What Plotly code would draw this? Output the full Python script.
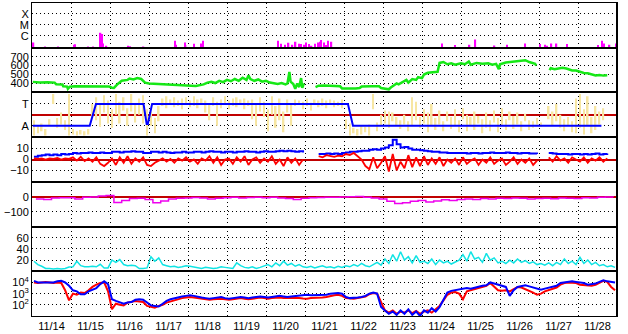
import numpy as np
import plotly.graph_objects as go
from plotly.subplots import make_subplots

# ---------------- axis / category data ----------------
day_labels = ["11/14", "11/15", "11/16", "11/17", "11/18", "11/19", "11/20", "11/21",
              "11/22", "11/23", "11/24", "11/25", "11/26", "11/27", "11/28"]
N_DAYS = len(day_labels)
t10 = np.arange(150) * 0.1 + 0.05      # 0.1-day sample times (days since 11/14 00:00)
t20 = np.arange(75) * 0.2 + 0.1        # 0.2-day sample times

# ---------------- panel 1: X-ray flux (W/m2) ----------------
xr_t = [0.04, 0.34, 0.67, 1.08, 1.11, 1.44, 1.56, 1.76, 1.79, 1.82, 1.91, 2.46, 2.51, 2.86,
        3.66, 3.69, 3.92, 3.94, 4.15, 4.33, 4.38, 6.30, 6.38, 6.48, 6.58, 6.68, 6.76, 6.84,
        6.89, 6.97, 7.02, 7.10, 7.17, 7.25, 7.33, 7.38, 7.42, 7.48, 7.55, 7.59, 7.68,
        10.52, 10.84, 11.22, 11.37, 11.86, 12.18, 12.65, 13.02, 13.15, 13.2, 13.32, 13.45,
        13.72, 14.51, 14.62, 14.66, 14.81, 14.97]
xr_flux = [2.4e-7, 1.0e-7, 1.0e-7, 1.5e-7, 1.65e-7, 1.0e-7, 1.0e-7, 1.9e-6, 1.4e-6, 1.95e-7,
           1.2e-7, 1.2e-7, 1.1e-7, 1.0e-7, 3.5e-7, 1.5e-7, 2.4e-7, 1.4e-7, 1.85e-7, 1.95e-7,
           3.5e-7, 3.5e-7, 1.85e-7, 1.5e-7, 2.3e-7, 1.5e-7, 2.8e-7, 1.85e-7, 1.7e-7, 1.5e-7,
           2.4e-7, 1.7e-7, 1.2e-7, 1.85e-7, 2.4e-7, 2.8e-7, 4.0e-7, 2.4e-7, 1.4e-7, 3.5e-7,
           2.8e-7, 1.95e-7, 1.4e-7, 1.5e-7, 4.5e-7, 1.3e-7, 1.5e-7, 1.95e-7, 1.7e-7, 1.5e-7,
           1.2e-7, 1.95e-7, 1.95e-7, 1.7e-7, 1.4e-7, 3.5e-7, 1.95e-7, 1.5e-7, 1.95e-7]
XR_BASE = 1e-8
xr_classes = ["C", "M", "X"]
xr_class_flux = [1e-6, 1e-5, 1e-4]

# ---------------- panel 2: solar wind speed (km/s) ----------------
sw_t = [0.02, 0.2, 0.4, 0.58, 0.62, 0.78, 0.8, 0.9, 0.92, 0.97,
        1.1, 1.4, 1.6, 1.98, 2.05, 2.1, 2.2, 2.3, 2.45, 2.5,
        2.6, 2.7, 2.8, 2.85, 2.9, 3.0, 3.2, 3.27,
        3.4, 3.6, 3.8, 4.0, 4.2, 4.4, 4.5, 4.6, 4.7, 4.8,
        4.9, 5.0, 5.1, 5.2, 5.3, 5.4, 5.5, 5.55, 5.6, 5.7,
        5.8, 5.9, 6.0, 6.1, 6.2, 6.3, 6.4, 6.5, 6.55, 6.6,
        6.63, 6.7, 6.75, 6.8, 6.85, 6.9, 6.93, 6.97,
        7.0,
        7.27, 7.35, 7.5, 7.7, 7.75, 7.9, 7.95, 8.1, 8.3, 8.4,
        8.45, 8.7, 8.9, 8.95, 9.05, 9.15, 9.2, 9.35, 9.4, 9.5,
        9.6, 9.65, 9.75, 9.85, 9.9, 10.0, 10.05, 10.15, 10.3, 10.4,
        10.45, 10.55, 10.65, 10.75, 10.85, 11.0, 11.1, 11.2, 11.25, 11.4,
        11.55, 11.7, 11.8, 11.9, 11.97, 12.0, 12.15, 12.3, 12.45, 12.55,
        12.65, 12.75, 12.9, 12.93,
        13.1,
        13.27, 13.3, 13.4, 13.5, 13.6, 13.7, 13.78, 13.85, 13.95, 14.05,
        14.15, 14.25, 14.35, 14.45, 14.55, 14.65, 14.75]
sw_v = [418, 412, 415, 410, 390, 388, 368, 365, 340, 365,
        368, 366, 368, 365, 352, 350, 395, 430, 440, 455,
        445, 460, 450, 430, 410, 400, 395, 400,
        390, 385, 380, 375, 372, 390, 410, 420, 405, 430,
        415, 440, 425, 450, 430, 465, 440, 490, 450, 430,
        445, 420, 430, 410, 400, 395, 405, 390, 400, 530,
        420, 395, 340, 400, 360, 460, 350, 400,
        None,
        360, 375, 378, 376, 372, 368, 345, 342, 345, 350,
        365, 368, 368, 350, 340, 335, 355, 400, 390, 420,
        440, 410, 450, 440, 470, 460, 500, 520, 525, 530,
        630, 640, 615, 625, 610, 625, 615, 645, 610, 630,
        620, 625, 610, 620, 560, 615, 635, 640, 645, 650,
        660, 640, 620, 600,
        None,
        550, 570, 560, 565, 575, 568, 560, 545, 545, 530,
        518, 515, 500, 490, 495, 488, 492]

# ---------------- panel 3: IMF sector (T/A) and phi scatter ----------------
sec_t = [0.02, 1.48, 1.64, 2.86, 2.94, 2.97, 3.08, 8.1, 8.23, 14.6]
sec_v = [-1, -1, 1, 1, -0.85, -0.85, 1, 1, -1, -1]
yel_lo = [-1.9, -1.7, -1.5, -1.9, -1.0, 1.0, -1.2, -0.9, -1.4, -1.9,
          -1.8, -1.9, -1.8, -1.9, -1.8, -0.3, -0.5, -1.1, 0.2, -0.8,
          -1.2, 0.0, -0.8, 0.4, -1.0, 0.3, -0.7, 0.0, -0.8, -1.9,
          -1.0, -1.7, -0.6, 0.8, 0.6, 0.9, 0.7, 0.8, 0.5, 0.9,
          0.7, 0.8, 0.6, 0.9, 0.2, -0.5, 0.8, -1.0, 0.6, 0.9,
          0.5, 0.8, 0.7, 0.9, 0.5, 0.8, -0.4, -1.0, 0.3, -0.2,
          -1.5, 0.0, -1.2, -0.5, -1.6, 0.2, -1.0, 0.8, 0.9, 0.5,
          0.8, 0.4, 0.9, 0.7, 0.8, 0.6, 0.9, 0.7, 0.8, 0.6,
          -1.3, -1.9, -1.7, -1.9, -1.8, -1.6, -1.9, 0.5, -1.5, -1.0,
          -0.8, -1.2, -0.6, -1.0, -1.3, -0.9, -1.5, -1.0, -0.5, -1.2,
          -0.8, -1.6, -1.0, -1.4, -0.9, -1.5, -0.6, -1.3, -1.0, -1.6,
          -0.4, -1.5, -1.0, -1.4, -0.8, -1.7, -1.2, -1.5, -0.7, -1.6,
          -1.0, -1.4, -0.5, -1.3, -0.9, -1.5, -0.6, -1.4, -1.2, -0.9,
          -1.1, None, -0.4, -1.0, -0.6, -1.2, -1.5, -1.0, -1.6, -1.7,
          -1.2, -1.8, -1.0, -1.7, -1.4, -0.9, -0.5, None, None, None]
yel_hi = [-0.5, -1.0, -0.8, -1.3, -0.4, 1.9, -0.3, 0.2, -0.5, 1.9,
          -1.3, -1.5, -1.4, -1.5, -1.3, 1.0, 1.6, 1.0, 1.8, 1.3,
          0.5, 1.9, 1.2, 1.6, 0.6, 1.9, 1.0, 1.5, 1.8, 0.5,
          0.3, -0.3, 0.8, 1.5, 1.7, 1.4, 1.6, 1.3, 1.5, 1.6,
          1.3, 1.7, 1.4, 1.5, 1.3, 1.0, 1.6, 1.2, 1.4, 1.7,
          1.3, 1.5, 1.6, 1.4, 1.5, 1.3, 1.4, 1.0, 1.6, 1.2,
          0.5, 1.7, 0.8, 1.5, 0.3, 1.4, 1.0, 1.4, 1.3, 1.2,
          1.5, 1.1, 1.4, 1.3, 1.5, 1.3, 1.4, 1.3, 1.2, 1.4,
          -0.4, -0.8, -1.2, -1.3, -1.0, -1.1, -0.9, 1.9, -0.7, 0.0,
          0.4, 0.3, 0.2, -0.2, -0.5, 0.0, -0.6, 1.6, 1.2, -0.2,
          0.5, 0.2, 1.0, -0.3, 0.4, -0.6, 0.3, -0.2, 0.5, -0.5,
          0.6, 0.0, -0.2, 0.3, -0.1, -0.4, 0.2, -0.5, 0.4, -0.3,
          0.6, -0.4, 0.3, -0.1, 0.2, -0.6, 0.1, -0.5, -0.6, -0.3,
          -0.7, None, 0.8, 0.3, 1.0, 0.0, -0.4, -0.2, -0.6, 1.5,
          1.9, 0.5, 1.7, -0.2, 0.8, 0.3, 0.6, None, None, None]

# ---------------- panel 4: Bt (blue) and Bz (red), nT ----------------
bt = [2.5, 3.5, 4, 4.5, 4, 4.5, 4, 5, 4.5, 5,
      6, 5.5, 6, 6, 6.5, 6, 6, 6.5, 6, 6,
      7, 7, 6.5, 7, 7, 7.5, 7, 7, 6, 6,
      7, 7, 6.5, 7, 6.5, 6, 6.5, 6.5, 7, 6.5,
      6.5, 7, 7, 6.5, 7, 7.5, 7, 7, 6.5, 7,
      7, 6.5, 7, 7, 7.5, 7, 7, 6.5, 7, 7.5,
      7, 7, 7.5, 8, 7.5, 8, 7.5, 7, 7.5, 6.5,
      None, None, None, 5, 5, 5.5, 5, 5.5, 5, 6,
      6.5, 7, 7, 7.5, 8, 8, 9, 9.5, 9, 10,
      11, 13, 18, 14, 11, 11.5, 10, 9, 9, 8.5,
      8, 7.5, 7, 7, 6.5, 6.5, 6, 6, 6, 6,
      6, 5.5, 6, 6, 5.5, 6, 6, 6.5, 6, 6,
      6, 6.5, 6, 6, 5.5, 6, 6, 5.5, 5.5, 5,
      None, None, 6, 5.5, 5, 5, 5, 4.5, 5, 5,
      4.5, 5, 4.5, 5, 5.5, 4.5, 5, 5.5, None, None]
bz = [1, 0.5, 1, 0, 1, 0.5, 1.5, 0, 1, 0.5,
      2, -1, 2.5, -1.5, 1, -2, 2, -4, -6, -3,
      1, -5, 2, -3, 3, -4, 1, -2, 2, -5,
      -6, -3, -1, 1, -2, 0.5, -3, 1, -1, 2,
      -2, 0, -4, 1, -1, 3, -3, 2, -5, 0,
      1, -4, 2, -2, 3, -5, 0, 2, -3, 1,
      -2, 3, -4, 0, -6, 2, -3, 1, -5, 0,
      None, None, None, 3, 2, 4, 3, 2.5, 3.5, 3,
      5, 4, 6, 3, 0, -6, -9, 2, -8, -3,
      3, -11, 5, -10, -2, -8, 4, -7, 2, -6,
      3, -5, 1, -4, 2, -6, 0, -3, 1, -5,
      2, -4, -1, 1, -5, 0, -3, 2, -4, -1,
      1, -5, -2, 2, -4, 0, -3, 1, -5, -1,
      None, None, 2, -2, 3, -1, 1, -3, 2, 0,
      -2, 2, -3, 1, -1, 2, -2, 1, None, None]

# ---------------- panel 5: Dst (nT) ----------------
dst = [-15, -18, -8, -7, -6, -15, -3, -2, 5, 8,
       -38, -25, -12, -10, -18, -40, -28, -15, -10, -8,
       -5, -8, -15, -10, -6, -4, -8, -5, -3, -6,
       -4, -8, -12, -18, -10, -6, -5, -3, -4, -2,
       0, 2, -3, -8, -15, -30, -45, -40, -30, -25,
       -35, -28, -20, -25, -18, -15, -18, -12, -15, -10,
       -12, -8, -10, -15, -12, -10, -14, -8, -10, -12,
       -6, -8, -4, -2, -3]

# ---------------- panel 6: cyan index ----------------
cy = [18, 12, 9, 5, 5, 4, 5, 4, 5, 7.5,
      8, 18, 10, 8, 8, 9, 8, 12.5, 6, 6,
      20, 16, 21, 12, 10, 11, 10, 5, 5, 6,
      26, 18, 24, 12, 10, 8, 9, 7, 8, 10,
      9, 8, 6, 5, 7, 6, 5, 6, 8, 7,
      6, 5, 15, 10, 7, 6, 8, 5, 7, 10,
      12, 8, 15, 10, 18, 11, 14, 9, 12, 8,
      7, 9, 6, 8, 10, 7, 8, 6, 9, 7,
      10, 8, 12, 9, 14, 10, 8, 12, 16, 11,
      22, 14, 30, 18, 35, 20, 26, 15, 28, 16,
      18, 14, 22, 12, 20, 15, 18, 13, 16, 20,
      30, 18, 35, 22, 25, 16, 32, 20, 24, 15,
      18, 14, 20, 15, 22, 16, 19, 14, 17, 12,
      14, 11, 15, 10, 16, 12, 22, 14, 18, 12,
      25, 14, 20, 12, 16, 10, 12, 8, 10, 7]

# ---------------- panel 7: electron flux (log10) ----------------
e_blue_log = [4.14, 4.0, 4.0, 4.0, 4.05, 4.0, 4.1, 4.14, 4.0, 3.7,
              3.3, 3.2, 2.95, 2.95, 3.2, 3.35, 3.5, 3.85, 4.1, 3.85,
              2.5, 2.35, 2.2, 2.1, 2.2, 2.25, 2.45, 2.5, 2.45, 2.2,
              1.95, 1.9, 1.85, 2.1, 2.35, 2.5, 2.6, 2.7, 2.75, 2.8,
              2.85, 2.8, 2.7, 2.65, 2.6, 2.55, 2.6, 2.65, 2.7, 2.6,
              2.55, 2.6, 2.65, 2.7, 2.65, 2.6, 2.65, 2.7, 2.75, 2.7,
              2.65, 2.7, 2.75, 2.8, 2.75, 2.7, 2.75, 2.8, 2.85, 2.85,
              2.9, 2.85, 2.85, 2.9, 2.85, 2.9, 3.0, 3.05, 3.05, 3.0,
              2.7, 2.6, 2.6, 2.65, 2.7, 2.8, 3.0, 3.1, 3.0, 1.8,
              1.5, 1.2, 1.4, 1.1, 1.5, 1.2, 1.6, 1.1, 1.4, 1.0,
              1.5, 1.3, 1.7, 1.4, 1.8, 2.5, 3.1, 3.25, 3.3, 3.35,
              3.4, 3.5, 3.45, 3.55, 3.6, 3.7, 3.75, 4.0, 3.9, 3.8,
              3.75, 3.6, 2.8, 3.3, 3.6, 3.7, 3.75, 3.65, 3.55, 3.4,
              3.35, 3.45, 3.55, 3.6, 3.7, 3.95, 4.0, 4.05, 4.1, 4.05,
              4.0, 3.95, 3.8, 3.85, 3.9, 4.05, 4.2, 4.1, 4.05, 4.0]
e_red_log = [4.0, 3.95, 4.0, 4.05, 4.0, 3.95, 4.0, 3.95, 3.3, 2.4,
             3.0, 2.9, 3.1, 3.05, 3.3, 3.6, 3.8, 3.95, 4.0, 3.2,
             1.6, 2.1, 2.0, 1.95, 2.2, 2.3, 2.35, 2.3, 2.25, 1.9,
             1.8, 1.75, 1.9, 2.0, 2.2, 2.3, 2.45, 2.55, 2.6, 2.65,
             2.7, 2.65, 2.6, 2.55, 2.5, 2.45, 2.5, 2.55, 2.55, 2.5,
             2.45, 2.5, 2.55, 2.6, 2.55, 2.5, 2.55, 2.6, 2.65, 2.6,
             2.55, 2.6, 2.65, 2.65, 2.6, 2.6, 2.6, 2.65, 2.6, 2.57,
             2.55, 2.6, 2.6, 2.65, 2.65, 2.7, 2.8, 2.85, 2.9, 2.8,
             2.6, 2.55, 2.55, 2.6, 2.65, 2.75, 2.95, 3.05, 3.0, 2.2,
             1.5, 1.3, 1.5, 1.2, 1.4, 1.3, 1.5, 1.25, 1.45, 1.2,
             1.4, 1.5, 1.3, 1.6, 1.9, 2.4, 2.9, 3.1, 3.15, 3.0,
             2.5, 3.2, 3.3, 3.45, 3.5, 3.6, 3.7, 3.95, 3.6, 3.3,
             3.25, 3.3, 3.2, 3.4, 3.6, 3.55, 3.4, 3.3, 3.1, 2.9,
             3.0, 3.2, 3.3, 3.45, 3.55, 3.8, 3.95, 4.0, 4.0, 3.95,
             3.8, 3.75, 3.7, 3.7, 3.8, 3.95, 4.15, 4.05, 3.6, 3.3]
E_THRESHOLD = 1e4

# ---------------- styles ----------------
MAG = "#ff00ff"
GREEN = "#16e816"
YEL = "#f7e6a2"
BLUE = "#0000ff"
RED = "#ff0000"
DKRED = "#c00000"
DSTC = "#ee00ee"
CYAN = "#10e4e4"
FONT = "Liberation Sans, Arial, sans-serif"
GRID_DASH = "1px,3px"

fig = make_subplots(rows=7, cols=1, shared_xaxes=True, vertical_spacing=0)

# panel 1
fig.add_trace(go.Bar(x=xr_t, y=[f - XR_BASE for f in xr_flux], base=XR_BASE, width=0.035,
                     marker=dict(color=MAG, line=dict(width=0))), row=1, col=1)
# panel 2
fig.add_trace(go.Scatter(x=sw_t, y=sw_v, mode="lines", line=dict(color=GREEN, width=2.5)),
              row=2, col=1)
# panel 3
yel_len = [None if (lo is None or hi is None) else hi - lo for lo, hi in zip(yel_lo, yel_hi)]
yel_base = [0 if lo is None else lo for lo in yel_lo]
fig.add_trace(go.Bar(x=t10, y=yel_len, base=yel_base, width=0.04,
                     marker=dict(color=YEL, line=dict(width=0))), row=3, col=1)
fig.add_trace(go.Scatter(x=sec_t, y=sec_v, mode="lines", line=dict(color=BLUE, width=2)),
              row=3, col=1)
# panel 4
fig.add_trace(go.Scatter(x=t10, y=bt, mode="lines", line=dict(color=BLUE, width=2, shape="hv")),
              row=4, col=1)
fig.add_trace(go.Scatter(x=t10, y=bz, mode="lines", line=dict(color=RED, width=1.8)),
              row=4, col=1)
# panel 5
fig.add_trace(go.Scatter(x=t20, y=dst, mode="lines", line=dict(color=DSTC, width=1.5, shape="hv")),
              row=5, col=1)
# panel 6
fig.add_trace(go.Scatter(x=t10, y=cy, mode="lines", line=dict(color=CYAN, width=1.5)), row=6, col=1)
# panel 7
fig.add_trace(go.Scatter(x=t10, y=np.power(10.0, e_red_log), mode="lines",
                         line=dict(color=RED, width=2)), row=7, col=1)
fig.add_trace(go.Scatter(x=t10, y=np.power(10.0, e_blue_log), mode="lines",
                         line=dict(color=BLUE, width=2)), row=7, col=1)
fig.add_hline(y=np.log10(E_THRESHOLD), row=7, col=1,
              line=dict(color=DKRED, width=1.5, dash="8px,3px"))

# axes
for r in range(1, 8):
    fig.update_xaxes(row=r, col=1, range=[0, N_DAYS], showgrid=False, zeroline=False,
                     showline=True, linecolor="black", linewidth=1, mirror=True,
                     ticks="", tickvals=[i + 0.5 for i in range(N_DAYS)], ticktext=day_labels,
                     tickfont=dict(family=FONT, size=11, color="black"),
                     minor=dict(tickvals=list(range(1, N_DAYS)), showgrid=True,
                                gridcolor="black", gridwidth=1, griddash=GRID_DASH, ticks=""))

ycommon = dict(showgrid=True, gridcolor="black", gridwidth=1, griddash=GRID_DASH,
               showline=True, linecolor="black", linewidth=1, mirror=True, ticks="",
               tickfont=dict(family=FONT, size=11, color="black"))

fig.update_yaxes(row=1, col=1, type="log", range=[-7.1, -3.0], tickvals=xr_class_flux,
                 ticktext=xr_classes, zeroline=False, **ycommon)
fig.update_yaxes(row=2, col=1, range=[300, 800], tickvals=[400, 500, 600, 700],
                 zeroline=False, **ycommon)
fig.update_yaxes(row=3, col=1, range=[-2.05, 2.05], tickvals=[1, -1], ticktext=["T", "A"],
                 zeroline=True, zerolinecolor=DKRED, zerolinewidth=2, **ycommon)
fig.update_yaxes(row=4, col=1, range=[-20.5, 20.5], tickvals=[-10, 0, 10],
                 zeroline=True, zerolinecolor=DKRED, zerolinewidth=2, **ycommon)
fig.update_yaxes(row=5, col=1, range=[-200, 100], tickvals=[-100, 0],
                 zeroline=True, zerolinecolor=DKRED, zerolinewidth=1.5, **ycommon)
fig.update_yaxes(row=6, col=1, range=[0, 80], tickvals=[20, 40, 60], zeroline=False, **ycommon)
fig.update_yaxes(row=7, col=1, type="log", range=[1, 5], tickvals=[1e2, 1e3, 1e4],
                 ticktext=["10<sup>2</sup>", "10<sup>3</sup>", "10<sup>4</sup>"],
                 zeroline=False, **ycommon)

fig.add_shape(type="line", xref="paper", yref="paper", x0=1, x1=1, y0=0, y1=1,
              line=dict(color="black", width=2))

fig.update_layout(width=628, height=334, margin=dict(l=32, r=11, t=2, b=17),
                  paper_bgcolor="white", plot_bgcolor="white", showlegend=False,
                  barmode="overlay", font=dict(family=FONT, size=11, color="black"))

fig.write_html("out.html")
